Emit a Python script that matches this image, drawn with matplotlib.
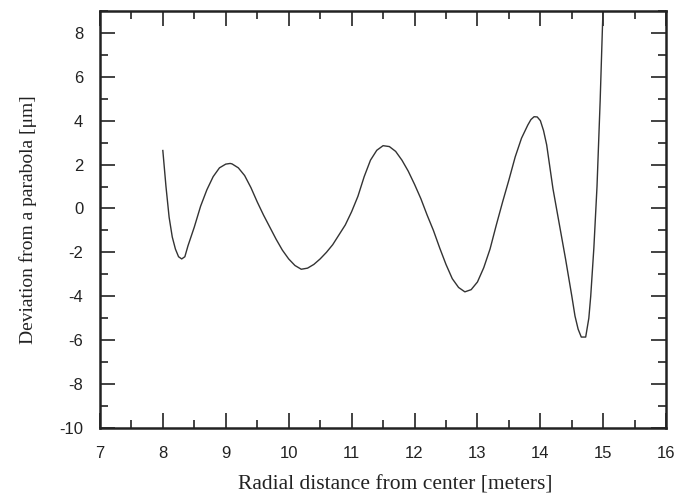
import matplotlib
matplotlib.use("Agg")
import matplotlib.pyplot as plt
from matplotlib.ticker import MultipleLocator

plt.rcParams["axes.unicode_minus"] = False

radius = [8.0, 8.05, 8.1, 8.15, 8.2, 8.25, 8.3, 8.35, 8.4, 8.5, 8.6, 8.7, 8.8, 8.9,
          9.0, 9.07, 9.1, 9.2, 9.3, 9.4, 9.5, 9.6, 9.7, 9.8, 9.9, 10.0, 10.1, 10.2,
          10.3, 10.4, 10.5, 10.6, 10.7, 10.8, 10.9, 11.0, 11.1, 11.2, 11.3, 11.4,
          11.5, 11.6, 11.7, 11.8, 11.9, 12.0, 12.1, 12.2, 12.3, 12.4, 12.5, 12.6,
          12.7, 12.8, 12.9, 13.0, 13.1, 13.2, 13.3, 13.4, 13.5, 13.6, 13.7, 13.8,
          13.85, 13.9, 13.95, 14.0, 14.05, 14.1, 14.2, 14.3, 14.4, 14.5, 14.55, 14.6, 14.65, 14.72,
          14.77, 14.8, 14.85, 14.9, 14.95, 15.0]
deviation = [2.64, 1.0, -0.4, -1.3, -1.85, -2.2, -2.3, -2.2, -1.7, -0.85, 0.1, 0.85, 1.45, 1.85,
             2.02, 2.05, 2.03, 1.85, 1.5, 0.95, 0.3, -0.3, -0.85, -1.4, -1.9, -2.3, -2.6, -2.77,
             -2.72, -2.55, -2.3, -2.0, -1.65, -1.2, -0.75, -0.15, 0.55, 1.45, 2.2, 2.65,
             2.86, 2.82, 2.6, 2.2, 1.7, 1.1, 0.45, -0.3, -1.0, -1.8, -2.55, -3.2,
             -3.6, -3.8, -3.7, -3.35, -2.7, -1.85, -0.75, 0.3, 1.3, 2.35, 3.2, 3.8,
             4.05, 4.18, 4.17, 4.0, 3.55, 2.9, 0.9, -0.7, -2.3, -4.0, -4.9, -5.5, -5.86, -5.86,
             -5.0, -4.0, -1.8, 1.0, 4.9, 9.5]

x_ticks = list(range(7, 17))
y_ticks = list(range(-10, 9, 2))

fig = plt.figure(figsize=(6.75, 4.97), dpi=100)
ax = fig.add_axes([0.148, 0.139, 0.839, 0.839])
ax.plot(radius, deviation, color="#333333", lw=1.0)
ax.set_xlim(7, 16)
ax.set_ylim(-10, 9)
ax.set_xticks(x_ticks)
ax.set_yticks(y_ticks)
ax.xaxis.set_minor_locator(MultipleLocator(0.5))
ax.yaxis.set_minor_locator(MultipleLocator(1))
ax.tick_params(which="both", direction="in", top=True, right=True, color="#222222")
ax.tick_params(which="major", length=11, width=1.2)
ax.tick_params(which="minor", length=6, width=1.2)
ax.tick_params(axis="y", which="major", pad=12)
ax.tick_params(axis="x", which="major", pad=13)
for lab in ax.get_xticklabels() + ax.get_yticklabels():
    lab.set_fontfamily("Liberation Sans")
    lab.set_fontsize(12)
    lab.set_color("#222222")
for s in ax.spines.values():
    s.set_linewidth(1.8)
    s.set_color("#222222")
ax.set_xlabel("Radial distance from center [meters]", family="Liberation Serif",
              fontsize=15.5, color="#222222", labelpad=12)
ax.xaxis.set_label_coords(0.521, -0.115)
ax.set_ylabel("Deviation from a parabola [\u03bcm]", family="Liberation Serif",
              fontsize=14, color="#222222", labelpad=16)
fig.savefig("out.png", dpi=100)
